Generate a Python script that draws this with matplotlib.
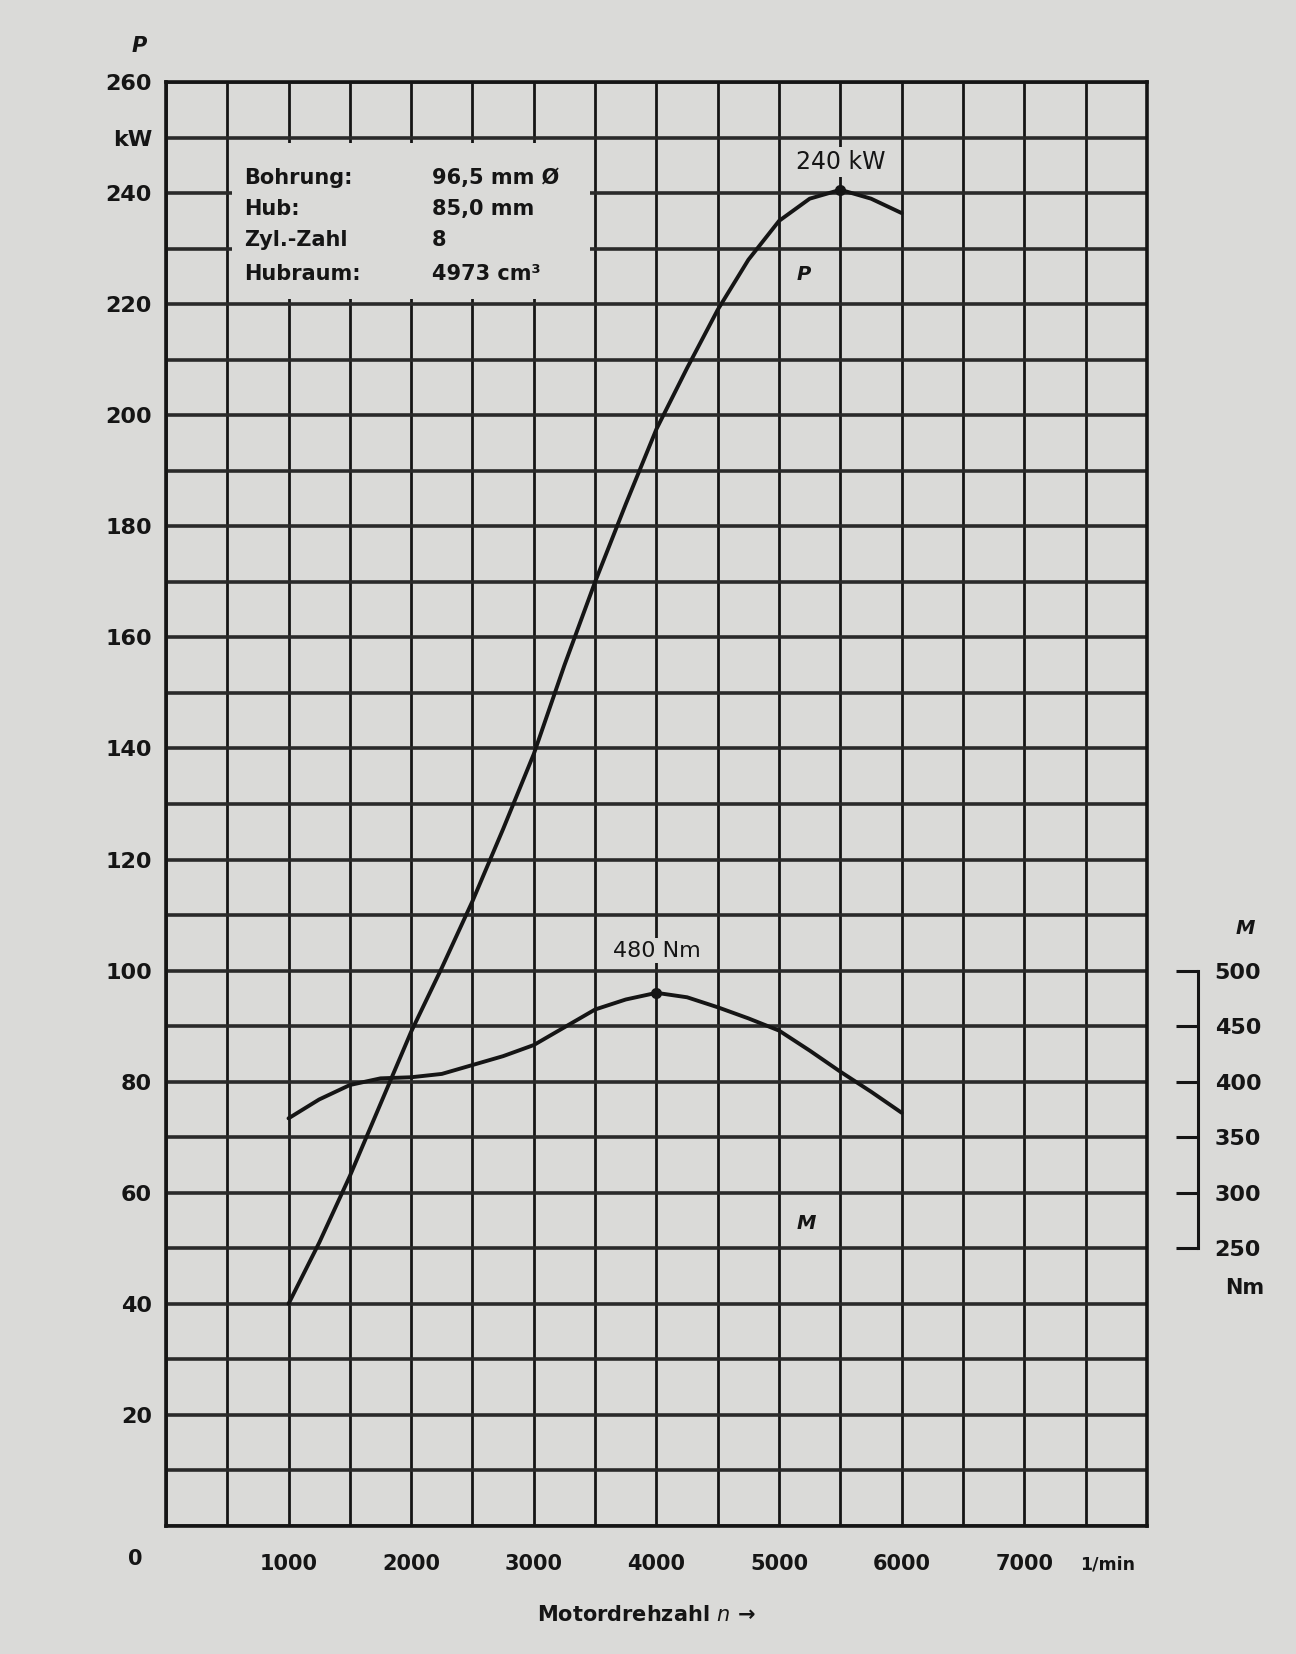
import matplotlib
matplotlib.use('Agg')
import matplotlib.pyplot as plt
from matplotlib.patches import Rectangle
import numpy as np

# ---------------- data ----------------
rpm_power = [1000, 1250, 1500, 1750, 2000, 2250, 2500, 2750, 3000, 3250, 3500,
             3750, 4000, 4250, 4500, 4750, 5000, 5250, 5500, 5750, 6000]
power_kw = [40, 51, 63, 76, 89, 100.5, 112.5, 125.5, 139, 155, 170,
            184, 197.5, 208.5, 219, 228, 235, 239, 240.6, 239, 236.4]

rpm_torque = [1000, 1250, 1500, 1750, 2000, 2250, 2500, 2750, 3000, 3250, 3500,
              3750, 4000, 4250, 4500, 4750, 5000, 5250, 5500, 5750, 6000]
torque_nm = [367, 384, 397, 403, 404, 407, 415, 423, 433, 449, 465,
             474, 480, 476, 467, 457, 446, 428, 409, 391, 372]

x_tick_values = [1000, 2000, 3000, 4000, 5000, 6000, 7000]
x_tick_labels = ['1000', '2000', '3000', '4000', '5000', '6000', '7000']
x_unit_label = '1/min'

y_tick_values = [20, 40, 60, 80, 100, 120, 140, 160, 180, 200, 220, 240, 250, 260]
y_tick_labels = ['20', '40', '60', '80', '100', '120', '140', '160', '180',
                 '200', '220', '240', 'kW', '260']

m_tick_values = [250, 300, 350, 400, 450, 500]
m_tick_labels = ['250', '300', '350', '400', '450', '500']

info_labels = ['Bohrung:', 'Hub:', 'Zyl.-Zahl', 'Hubraum:']
info_values = ['96,5 mm Ø', '85,0 mm', '8', '4973 cm³']

p_peak_rpm, p_peak_kw, p_peak_label = 5500, 240.6, '240 kW'
m_peak_rpm, m_peak_nm, m_peak_label = 4000, 480, '480 Nm'

# ---------------- style ----------------
BG = '#dadad8'
INK = '#151515'
plt.rcParams['font.family'] = ['DejaVu Sans']

fig = plt.figure(figsize=(12.96, 16.54), dpi=100, facecolor=BG)
ax = fig.add_axes([0.128, 0.0774, 0.757, 0.873], facecolor=BG)
ax.set_xlim(0, 8000)
ax.set_ylim(0, 260)

# grid (every 500 rpm / 10 kW), keep minor lines that coincide with majors
ax.xaxis.remove_overlapping_locs = False
ax.yaxis.remove_overlapping_locs = False
ax.set_xticks(np.arange(0, 8001, 500), minor=True)
ax.set_yticks(np.arange(0, 261, 10), minor=True)
ax.grid(False, which='major')
ax.grid(True, which='minor', axis='x', color=INK, lw=2.0)
ax.grid(True, which='minor', axis='y', color='#2a2a2a', lw=2.6)
ax.set_axisbelow(True)
for s in ax.spines.values():
    s.set_linewidth(2.6)
    s.set_color(INK)

ax.set_xticks(x_tick_values)
ax.set_xticklabels(x_tick_labels, fontsize=15, fontweight='bold', color=INK)
ax.set_yticks(y_tick_values)
ax.set_yticklabels(y_tick_labels, fontsize=16, fontweight='bold', color=INK)
ax.tick_params(which='both', length=0)
ax.tick_params(axis='x', pad=20)
ax.tick_params(axis='y', pad=10)

ax.text(7680, -5.4, x_unit_label, ha='center', va='top', fontsize=12.5,
        fontweight='bold', color=INK, clip_on=False)
ax.text(-0.024, -0.016, '0', transform=ax.transAxes, ha='right', va='top',
        fontsize=15, fontweight='bold', color=INK)
ax.text(-0.027, 1.018, 'P', transform=ax.transAxes, ha='center', va='bottom',
        fontsize=15, fontweight='bold', fontstyle='italic', color=INK)
ax.text(0.49, -0.055, 'Motordrehzahl $n$ \u2192', transform=ax.transAxes,
        ha='center', va='top', fontsize=15, fontweight='bold', color=INK)

# info box (blanking the grid)
ax.add_patch(Rectangle((540, 221), 2920, 28, facecolor=BG, edgecolor='none', zorder=2))
rows_y = [242.8, 237.2, 231.6, 225.4]
for lab, val, yy in zip(info_labels, info_values, rows_y):
    ax.text(640, yy, lab, fontsize=15, fontweight='bold', color=INK,
            va='center', ha='left', zorder=3)
    ax.text(2170, yy, val, fontsize=15, fontweight='bold', color=INK,
            va='center', ha='left', zorder=3)

# power curve
ax.plot(rpm_power, power_kw, color=INK, lw=2.8, zorder=4, solid_capstyle='round',
        solid_joinstyle='round')
ax.plot([p_peak_rpm], [p_peak_kw], 'o', color=INK, ms=7, zorder=5)
ax.text(p_peak_rpm, 245.6, p_peak_label, ha='center', va='center', fontsize=17,
        color=INK, zorder=5,
        bbox=dict(facecolor=BG, edgecolor='none', pad=2))
ax.text(5200, 225.3, 'P', ha='center', va='center', fontsize=14,
        fontweight='bold', fontstyle='italic', color=INK, zorder=5)

# torque curve on twin axis (500 Nm <-> 100 kW)
ax2 = ax.twinx()
ax2.set_ylim(0, 1300)
for side in ['top', 'bottom', 'left']:
    ax2.spines[side].set_visible(False)
ax2.spines['right'].set_position(('axes', 1.052))
ax2.spines['right'].set_bounds(250, 500)
ax2.spines['right'].set_linewidth(2.2)
ax2.spines['right'].set_color(INK)
ax2.set_yticks(m_tick_values)
ax2.set_yticklabels(m_tick_labels, fontsize=16, fontweight='bold', color=INK)
ax2.tick_params(axis='y', direction='in', length=16, width=2.2, color=INK, pad=12)
ax2.text(1.1, 538, 'M', transform=ax2.get_yaxis_transform(), ha='center',
         va='center', fontsize=14, fontweight='bold', fontstyle='italic', color=INK)
ax2.text(1.1, 214, 'Nm', transform=ax2.get_yaxis_transform(), ha='center',
         va='center', fontsize=15, fontweight='bold', color=INK)

ax2.plot(rpm_torque, torque_nm, color=INK, lw=2.8, zorder=4, solid_capstyle='round',
         solid_joinstyle='round')
ax2.plot([m_peak_rpm], [m_peak_nm], 'o', color=INK, ms=7, zorder=5)
ax2.text(m_peak_rpm, 518, m_peak_label, ha='center', va='center', fontsize=16,
         color=INK, zorder=5,
         bbox=dict(facecolor=BG, edgecolor='none', pad=2))
ax2.text(5220, 272, 'M', ha='center', va='center', fontsize=14,
         fontweight='bold', fontstyle='italic', color=INK, zorder=5)

fig.savefig('out.png', dpi=100, facecolor=BG)
